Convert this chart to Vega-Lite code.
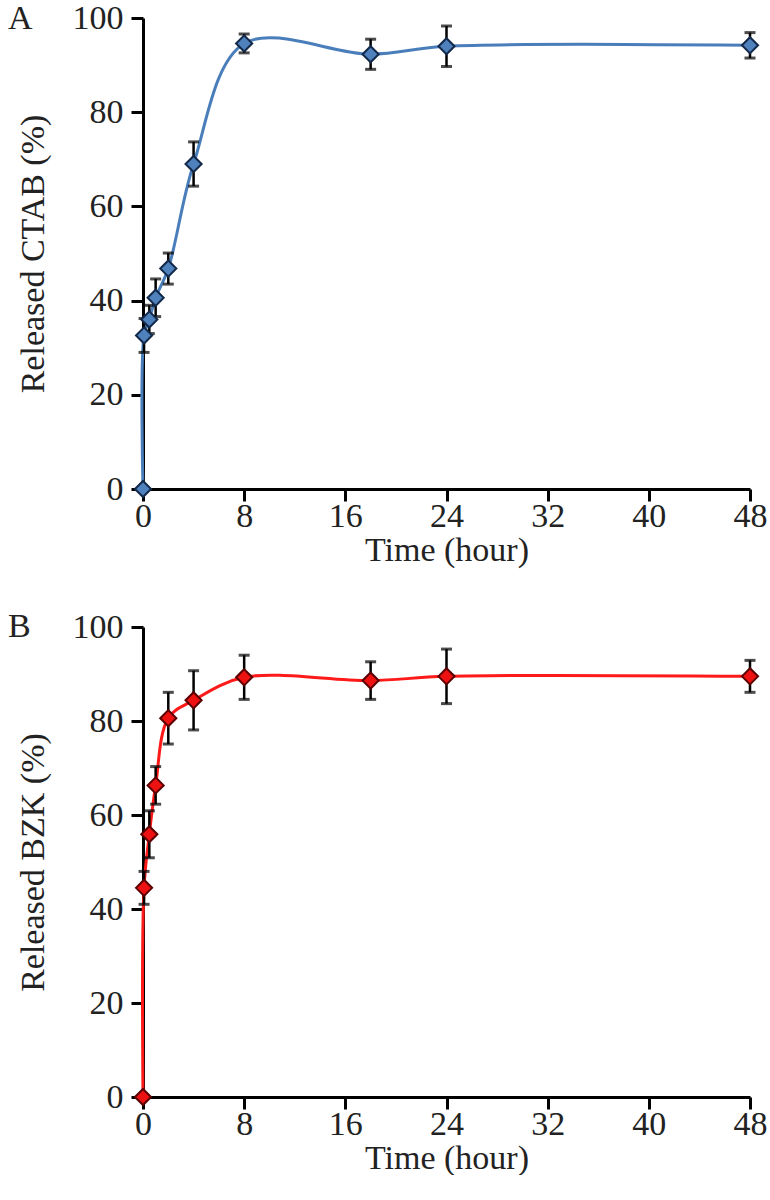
{
  "$schema": "https://vega.github.io/schema/vega-lite/v6.json",
  "padding": {"left": 8, "top": 1, "right": 0, "bottom": 0},
  "background": "white",
  "config": {
    "view": {"stroke": null},
    "font": "Liberation Serif",
    "axis": {
      "grid": false,
      "domainColor": "black",
      "domainWidth": 3,
      "tickColor": "black",
      "tickWidth": 3,
      "tickSize": 12,
      "labelFont": "Liberation Serif",
      "labelFontSize": 34,
      "labelColor": "#222222",
      "titleFont": "Liberation Serif",
      "titleFontSize": 34,
      "titleFontWeight": "normal",
      "titleColor": "#222222",
      "labelFlush": false
    },
    "title": {"font": "Liberation Serif", "fontSize": 34, "fontWeight": "normal", "color": "#222222"}
  },
  "datasets": {
    "ctab": [
      {"t": 0, "v": 0, "err": 0},
      {"t": 0.083, "v": 32.6, "err": 3.6},
      {"t": 0.5, "v": 36, "err": 3},
      {"t": 1, "v": 40.6, "err": 4},
      {"t": 2, "v": 46.8, "err": 3.3},
      {"t": 4, "v": 69, "err": 4.7},
      {"t": 8, "v": 94.6, "err": 2},
      {"t": 18, "v": 92.3, "err": 3.2},
      {"t": 24, "v": 94, "err": 4.3},
      {"t": 48, "v": 94.2, "err": 2.7}
    ],
    "bzk": [
      {"t": 0, "v": 0, "err": 0},
      {"t": 0.083, "v": 44.5, "err": 3.5},
      {"t": 0.5, "v": 55.9, "err": 5},
      {"t": 1, "v": 66.3, "err": 4},
      {"t": 2, "v": 80.6, "err": 5.5},
      {"t": 4, "v": 84.4, "err": 6.3},
      {"t": 8, "v": 89.3, "err": 4.7},
      {"t": 18, "v": 88.6, "err": 4},
      {"t": 24, "v": 89.5, "err": 5.8},
      {"t": 48, "v": 89.5, "err": 3.4}
    ]
  },
  "spacing": 43,
  "vconcat": [
    {
      "width": 607,
      "height": 471,
      "title": {"text": "A", "anchor": "start", "frame": "bounds", "orient": "top", "offset": 0, "dx": -8, "dy": 35},
      "data": {"name": "ctab"},
      "encoding": {
        "x": {"field": "t", "type": "quantitative", "scale": {"domain": [0, 48], "nice": false, "zero": true},
              "axis": {"title": "Time (hour)", "values": [0, 8, 16, 24, 32, 40, 48], "labelPadding": -2, "titlePadding": 0}},
        "y": {"field": "v", "type": "quantitative", "scale": {"domain": [0, 100], "nice": false},
              "axis": {"title": "Released CTAB (%)", "values": [0, 20, 40, 60, 80, 100], "labelPadding": 8, "titlePadding": 22}}
      },
      "layer": [
        {"mark": {"type": "line", "interpolate": "catmull-rom", "color": "#4a7ebb", "strokeWidth": 3}},
        {"mark": {"type": "errorbar", "ticks": {"size": 11, "thickness": 3, "color": "black"}, "rule": {"strokeWidth": 2.5, "color": "black"}},
         "encoding": {"yError": {"field": "err"}}},
        {"mark": {"type": "point", "shape": "diamond", "filled": true, "size": 260, "fill": "#4f81bd", "stroke": "#13294a", "strokeWidth": 2, "opacity": 1}}
      ]
    },
    {
      "width": 607,
      "height": 470,
      "title": {"text": "B", "anchor": "start", "frame": "bounds", "orient": "top", "offset": 0, "dx": -8, "dy": 34},
      "data": {"name": "bzk"},
      "encoding": {
        "x": {"field": "t", "type": "quantitative", "scale": {"domain": [0, 48], "nice": false, "zero": true},
              "axis": {"title": "Time (hour)", "values": [0, 8, 16, 24, 32, 40, 48], "labelPadding": -2, "titlePadding": 0}},
        "y": {"field": "v", "type": "quantitative", "scale": {"domain": [0, 100], "nice": false},
              "axis": {"title": "Released BZK (%)", "values": [0, 20, 40, 60, 80, 100], "labelPadding": 8, "titlePadding": 22}}
      },
      "layer": [
        {"mark": {"type": "line", "interpolate": "catmull-rom", "color": "#ff1a1a", "strokeWidth": 3}},
        {"mark": {"type": "errorbar", "ticks": {"size": 11, "thickness": 3, "color": "black"}, "rule": {"strokeWidth": 2.5, "color": "black"}},
         "encoding": {"yError": {"field": "err"}}},
        {"mark": {"type": "point", "shape": "diamond", "filled": true, "size": 260, "fill": "#ee1111", "stroke": "#5a0000", "strokeWidth": 2, "opacity": 1}}
      ]
    }
  ]
}
